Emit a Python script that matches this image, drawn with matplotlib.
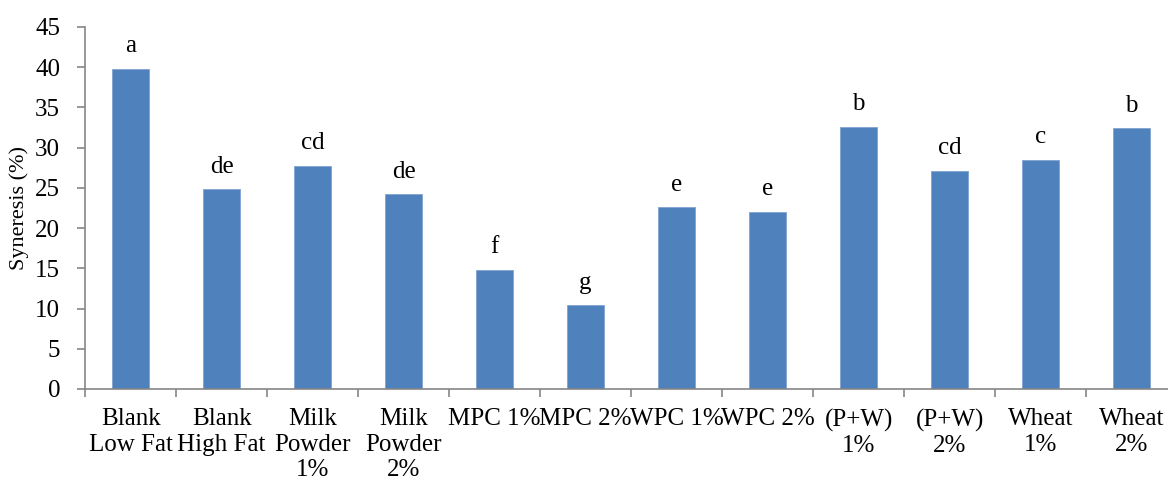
import numpy as np
import matplotlib.pyplot as plt

# Sample names and measured syneresis
labels = ['Blank\nLow Fat', 'Blank\nHigh Fat', 'Milk\nPowder\n1%', 'Milk\nPowder\n2%',
          'MPC 1%', 'MPC 2%', 'WPC 1%', 'WPC 2%',
          '(P+W)\n1%', '(P+W)\n2%', 'Wheat\n1%', 'Wheat\n2%']
syneresis = [39.8, 24.8, 27.7, 24.2, 14.8, 10.4, 22.6, 22.0, 32.6, 27.1, 28.5, 32.4]
letters = ['a', 'de', 'cd', 'de', 'f', 'g', 'e', 'e', 'b', 'cd', 'c', 'b']

plt.rcParams['font.family'] = ['Liberation Serif', 'DejaVu Serif']

fig = plt.figure(figsize=(11.68, 4.82), dpi=100)
ax = fig.add_axes([0.0728, 0.193, 0.935, 0.751])

x = np.arange(len(labels))
ax.bar(x, syneresis, width=0.4, color='#4F81BD', edgecolor='#7FA3CF', linewidth=0.6)

# Significance letters above bars
for xi, v, s in zip(x, syneresis, letters):
    ax.annotate(s, (xi, v), xytext=(0, 12), textcoords='offset points',
                ha='center', va='baseline', fontsize=18)

ax.set_xlim(-0.5, len(labels) - 0.5)
ax.set_ylim(0, 45)
ax.set_yticks(np.arange(0, 46, 5))

# Excel-style ticks between categories, labels centred
ax.set_xticks(np.arange(-0.5, len(labels), 1))
ax.set_xticklabels([])
ax.set_xticks(x, minor=True)
ax.set_xticklabels(labels, minor=True, fontsize=18, linespacing=1.2)
ax.tick_params(axis='x', which='minor', length=0, pad=14)
ax.tick_params(axis='x', which='major', length=6, width=1.2, color='#868686', direction='out')
ax.tick_params(axis='y', length=6, width=1.2, color='#868686', labelsize=18, pad=12)

ax.set_ylabel('Syneresis (%)', fontsize=16, labelpad=4)

for sp in ['top', 'right']:
    ax.spines[sp].set_visible(False)
for sp in ['left', 'bottom']:
    ax.spines[sp].set_color('#868686')
    ax.spines[sp].set_linewidth(1.2)

fig.savefig('out.png', dpi=100)
